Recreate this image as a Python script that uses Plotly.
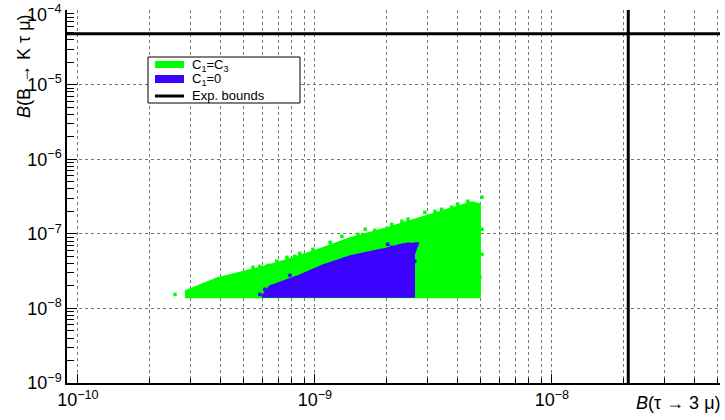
import plotly.graph_objects as go
import math

# ---- data ----
# dense core outline of the C1=C3 scan (green)
green_core_x = [2.83e-10, 3.86e-10, 5.32e-10, 7.33e-10, 1.02e-9, 1.41e-9, 1.94e-9, 2.69e-9,
                3.71e-9, 4.60e-9, 4.97e-9, 4.97e-9, 2.83e-10]
green_core_y = [1.69e-8, 2.53e-8, 3.24e-8, 4.28e-8, 6.01e-8, 8.70e-8, 1.15e-7, 1.57e-7,
                2.13e-7, 2.65e-7, 2.49e-7, 1.41e-8, 1.41e-8]
# isolated green points along the edges
green_pts_x = [2.57e-10, 3.03e-10, 3.34e-10, 3.71e-10, 4.09e-10, 4.38e-10, 4.83e-10, 5.16e-10,
               5.86e-10, 6.91e-10, 7.62e-10, 8.64e-10, 9.81e-10, 1.52e-9, 1.79e-9, 2.11e-9,
               2.47e-9, 2.91e-9, 3.43e-9, 4.01e-9, 4.42e-9, 5.07e-9, 4.83e-9, 4.97e-9,
               1.30e-9, 1.63e-9, 2.33e-9, 3.21e-9, 3.78e-9, 5.07e-9, 4.87e-9, 5.07e-9,
               3.97e-10, 3.43e-10, 5.48e-10, 6.34e-10, 8.23e-10, 1.16e-9]
green_pts_y = [1.54e-8, 1.59e-8, 1.64e-8, 1.91e-8, 2.30e-8, 2.69e-8, 2.86e-8, 2.95e-8,
               3.66e-8, 4.28e-8, 4.84e-8, 5.47e-8, 6.19e-8, 9.85e-8, 1.11e-7, 1.34e-7,
               1.57e-7, 1.94e-7, 2.13e-7, 2.49e-7, 2.73e-7, 3.09e-7, 7.23e-8, 2.61e-8,
               9.25e-8, 1.15e-7, 1.47e-7, 2.00e-7, 2.27e-7, 5.31e-8, 1.69e-8, 1.15e-7,
               2.10e-8, 1.80e-8, 3.55e-8, 3.78e-8, 4.99e-8, 7.69e-8]
# dense core outline of the C1=0 scan (blue)
blue_core_x = [5.98e-10, 6.46e-10, 8.64e-10, 1.08e-9, 1.41e-9, 1.94e-9, 2.35e-9, 2.72e-9,
               2.62e-9, 2.62e-9, 5.98e-10]
blue_core_y = [1.45e-8, 1.97e-8, 2.77e-8, 3.78e-8, 4.99e-8, 6.19e-8, 7.23e-8, 7.45e-8,
               5.31e-8, 1.43e-8, 1.43e-8]
blue_pts_x = [2.11e-9, 2.47e-9, 2.69e-9, 2.64e-9, 2.59e-9, 5.86e-10, 6.46e-10, 7.12e-10,
              8.64e-10, 1.02e-9, 2.03e-9, 2.33e-9, 1.63e-9, 1.34e-9, 7.85e-10, 6.15e-10]
blue_pts_y = [6.59e-8, 7.23e-8, 7.23e-8, 4.28e-8, 2.30e-8, 1.54e-8, 1.80e-8, 2.10e-8,
              2.45e-8, 2.86e-8, 7.23e-8, 6.80e-8, 5.31e-8, 4.55e-8, 2.77e-8, 1.80e-8]

# experimental bounds
bound_tau3mu = 2.1e-8
bound_BKtaumu = 4.8e-5

# axis limits and ticks
x_min, x_max = 9.0e-11, 5.12e-8
y_min, y_max = 1e-9, 1.001e-4
x_tickvals = [1e-10, 1e-9, 1e-8]
x_ticktext = ["10<sup>−10</sup>", "10<sup>−9</sup>", "10<sup>−8</sup>"]
y_tickvals = [1e-9, 1e-8, 1e-7, 1e-6, 1e-5, 1e-4]
y_ticktext = ["10<sup>−9</sup>", "10<sup>−8</sup>", "10<sup>−7</sup>", "10<sup>−6</sup>",
              "10<sup>−5</sup>", "10<sup>−4</sup>"]

GREEN = "#00ff00"
BLUE = "#3c00ff"
FONT = "Liberation Sans, Arial, sans-serif"

fig = go.Figure()
fig.add_trace(go.Scatter(x=green_core_x, y=green_core_y, mode="lines", fill="toself",
                         fillcolor=GREEN, line=dict(color=GREEN, width=2), hoverinfo="skip"))
fig.add_trace(go.Scatter(x=green_pts_x, y=green_pts_y, mode="markers",
                         marker=dict(symbol="square", size=3.5, color=GREEN), hoverinfo="skip"))
fig.add_trace(go.Scatter(x=blue_core_x, y=blue_core_y, mode="lines", fill="toself",
                         fillcolor=BLUE, line=dict(color=BLUE, width=2), hoverinfo="skip"))
fig.add_trace(go.Scatter(x=blue_pts_x, y=blue_pts_y, mode="markers",
                         marker=dict(symbol="square", size=3.5, color=BLUE), hoverinfo="skip"))
# bounds
fig.add_trace(go.Scatter(x=[bound_tau3mu, bound_tau3mu], y=[y_min, y_max], mode="lines",
                         line=dict(color="black", width=3), hoverinfo="skip"))
fig.add_trace(go.Scatter(x=[x_min, x_max], y=[bound_BKtaumu, bound_BKtaumu], mode="lines",
                         line=dict(color="black", width=3), hoverinfo="skip"))

W, H = 725, 420
L, R, T, B = 67, 5, 10, 37
pw, ph = W - L - R, H - T - B


def px(xp):
    return (xp - L) / pw


def py(yp):
    return (H - B - yp) / ph


grid = dict(gridcolor="#777777", griddash="dot", gridwidth=1)
fig.update_xaxes(type="log", range=[math.log10(x_min), math.log10(x_max)],
                 tickvals=x_tickvals, ticktext=x_ticktext, automargin=False,
                 ticklabeloverflow="allow",
                 showline=True, linecolor="black", linewidth=1.5, mirror=False,
                 ticks="inside", ticklen=9, tickcolor="black", tickwidth=1,
                 showgrid=True, **grid, zeroline=False,
                 tickfont=dict(family=FONT, size=18, color="black"),
                 minor=dict(dtick="D1", ticks="inside", ticklen=5, tickcolor="black",
                            showgrid=True, gridcolor="#777777", griddash="dot", gridwidth=1))
# the top label (10^-4) is set a little lower, as in the original, so it is not clipped
fig.update_yaxes(type="log", range=[math.log10(y_min), math.log10(y_max)],
                 tickvals=y_tickvals, ticktext=y_ticktext[:-1] + [""], automargin=False,
                 ticklabeloverflow="allow",
                 showline=True, linecolor="black", linewidth=1.5, mirror=False,
                 ticks="inside", ticklen=10, tickcolor="black", tickwidth=1,
                 showgrid=True, **grid, zeroline=False,
                 tickfont=dict(family=FONT, size=18, color="black"),
                 minor=dict(dtick="D1", ticks="inside", ticklen=7, tickcolor="black",
                            showgrid=False))

shapes = []
# legend box
shapes.append(dict(type="rect", xref="paper", yref="paper", x0=px(148), x1=px(300),
                   y0=py(103), y1=py(57), line=dict(color="black", width=1),
                   fillcolor="white", layer="above"))
shapes.append(dict(type="rect", xref="paper", yref="paper", x0=px(155), x1=px(184),
                   y0=py(68), y1=py(61), line=dict(width=0), fillcolor=GREEN, layer="above"))
shapes.append(dict(type="rect", xref="paper", yref="paper", x0=px(155), x1=px(184),
                   y0=py(83), y1=py(75), line=dict(width=0), fillcolor=BLUE, layer="above"))
shapes.append(dict(type="line", xref="paper", yref="paper", x0=px(155), x1=px(184),
                   y0=py(96), y1=py(96), line=dict(color="black", width=3), layer="above"))

annotations = [
    dict(text=y_ticktext[-1], x=px(63), y=py(0), xref="paper", yref="paper",
         xanchor="right", yanchor="top", showarrow=False,
         font=dict(family=FONT, size=18, color="black")),
    dict(text="C<sub>1</sub>=C<sub>3</sub>", x=px(190), y=py(65), xref="paper", yref="paper",
         xanchor="left", yanchor="middle", showarrow=False,
         font=dict(family=FONT, size=13, color="black")),
    dict(text="C<sub>1</sub>=0", x=px(190), y=py(79), xref="paper", yref="paper",
         xanchor="left", yanchor="middle", showarrow=False,
         font=dict(family=FONT, size=13, color="black")),
    dict(text="Exp. bounds", x=px(190), y=py(95), xref="paper", yref="paper",
         xanchor="left", yanchor="middle", showarrow=False,
         font=dict(family=FONT, size=13, color="black")),
    dict(text="<i>B</i>(B → K τ μ)", x=px(24), y=py(12), xref="paper", yref="paper",
         xanchor="center", yanchor="top", textangle=-90, showarrow=False,
         font=dict(family=FONT, size=18, color="black")),
    dict(text="<i>B</i>(τ → 3 μ)", x=px(723), y=py(403), xref="paper", yref="paper",
         xanchor="right", yanchor="middle", showarrow=False,
         font=dict(family=FONT, size=18, color="black")),
]

fig.update_layout(width=W, height=H, margin=dict(l=L, r=R, t=T, b=B),
                  paper_bgcolor="white", plot_bgcolor="white", showlegend=False,
                  shapes=shapes, annotations=annotations,
                  font=dict(family=FONT, color="black"))
fig.write_html("out.html", config={"displayModeBar": False},
               post_script="document.body.style.margin='0';document.body.style.overflow='hidden';")
